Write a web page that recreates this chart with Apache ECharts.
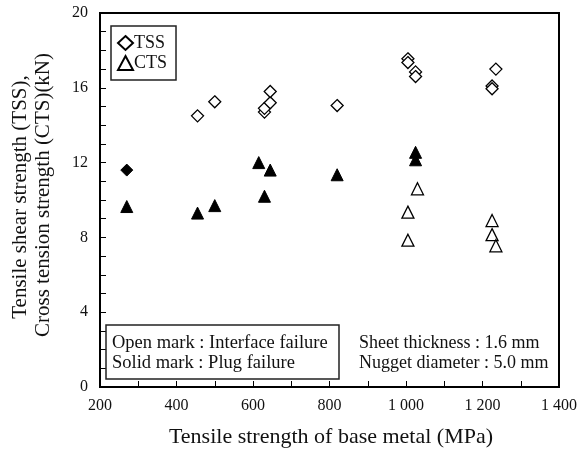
<!DOCTYPE html>
<html>
<head>
<meta charset="utf-8">
<script src="https://cdn.jsdelivr.net/npm/echarts@6/dist/echarts.min.js"></script>
<style>html,body{margin:0;padding:0;background:#fff}#c{width:580px;height:450px}</style>
</head>
<body>
<div id="c"></div>
<script>
// Data (x: MPa, y: kN)
const tssOpen = [[455,14.5],[500,15.25],[630,14.7],[630,14.9],[645,15.2],[645,15.8],[820,15.05],[1005,17.55],[1005,17.35],[1025,16.85],[1025,16.6],[1235,17.0],[1225,16.1],[1225,15.95]];
const tssSolid = [[270,11.6]];
const ctsSolid = [[270,9.65],[455,9.3],[500,9.7],[630,10.2],[615,12.0],[645,11.6],[820,11.35],[1025,12.55],[1025,12.15]];
const ctsOpen = [[1030,10.6],[1005,9.35],[1005,7.85],[1225,8.9],[1225,8.15],[1235,7.55]];
const xTicks = [200,400,600,800,1000,1200,1400];
const yTicks = [0,4,8,12,16,20];
const legendNames = ['TSS','CTS'];
const noteLeft = ['Open mark : Interface failure','Solid mark : Plug failure'];
const noteRight = ['Sheet thickness : 1.6 mm','Nugget diameter : 5.0 mm'];
const yTitle = ['Tensile shear strength (TSS),','Cross tension strength (CTS)(kN)'];
const xTitle = 'Tensile strength of base metal (MPa)';

const FONT = '"Liberation Serif", "DejaVu Serif", serif';
const chart = echarts.init(document.getElementById('c'), null, {renderer:'canvas'});
const axisCommon = {
  axisLine:{show:true, lineStyle:{color:'#000', width:2}},
  axisTick:{show:true, inside:true, length:6, lineStyle:{color:'#000', width:1}},
  minorTick:{show:true, length:6, lineStyle:{color:'#000', width:1}},
  splitLine:{show:false},
  axisLabel:{color:'#111', fontFamily:FONT, fontSize:16}
};
chart.setOption({
  animation:false,
  backgroundColor:'#fff',
  grid:{left:100, right:20, top:13, bottom:63, show:true, borderColor:'#000', borderWidth:2, backgroundColor:'transparent'},
  xAxis:Object.assign({}, axisCommon, {
    type:'value', min:xTicks[0], max:xTicks[xTicks.length-1], interval:200,
    minorTick:Object.assign({}, axisCommon.minorTick, {splitNumber:2}),
    axisLabel:Object.assign({}, axisCommon.axisLabel, {margin:11, showMinLabel:true, showMaxLabel:true,
      formatter:function(v){ return v>=1000 ? Math.floor(v/1000)+' '+String(v%1000).padStart(3,'0') : String(v); }})
  }),
  yAxis:Object.assign({}, axisCommon, {
    type:'value', min:yTicks[0], max:yTicks[yTicks.length-1], interval:4,
    minorTick:Object.assign({}, axisCommon.minorTick, {splitNumber:4}),
    axisLabel:Object.assign({}, axisCommon.axisLabel, {margin:12})
  }),
  legend:{
    data:legendNames, orient:'vertical', left:111, top:26,
    padding:[8,9,8,6], itemGap:2, itemWidth:15, itemHeight:14,
    borderColor:'#222', borderWidth:1.5, backgroundColor:'#fff',
    textStyle:{fontFamily:FONT, fontSize:18, color:'#111', padding:[0,0,0,-4]},
    selectedMode:false
  },
  series:[
    {name:'TSS', type:'scatter', data:tssOpen, symbol:'diamond', symbolSize:12,
      itemStyle:{color:'#fff', borderColor:'#000', borderWidth:1.3, opacity:1}},
    {name:'TSS plug', type:'scatter', data:tssSolid, symbol:'diamond', symbolSize:12,
      itemStyle:{color:'#000', borderColor:'#000', borderWidth:1, opacity:1}},
    {name:'CTS plug', type:'scatter', data:ctsSolid, symbol:'triangle', symbolSize:[12,12],
      itemStyle:{color:'#000', borderColor:'#000', borderWidth:1, opacity:1}},
    {name:'CTS', type:'scatter', data:ctsOpen, symbol:'triangle', symbolSize:[12,12],
      itemStyle:{color:'#fff', borderColor:'#000', borderWidth:1.3, opacity:1}}
  ],
  graphic:[
    {type:'rect', shape:{x:106, y:325, width:233, height:54}, style:{fill:'#fff', stroke:'#222', lineWidth:1.5}, z:10},
    {type:'text', x:112, y:343, style:{text:noteLeft[0], font:'18.5px '+FONT, fill:'#111', textVerticalAlign:'middle'}, z:11},
    {type:'text', x:112, y:363, style:{text:noteLeft[1], font:'18.5px '+FONT, fill:'#111', textVerticalAlign:'middle'}, z:11},
    {type:'text', x:359, y:343, style:{text:noteRight[0], font:'18px '+FONT, fill:'#111', textVerticalAlign:'middle'}, z:11},
    {type:'text', x:359, y:363, style:{text:noteRight[1], font:'18px '+FONT, fill:'#111', textVerticalAlign:'middle'}, z:11},
    {type:'text', x:20, y:197, rotation:Math.PI/2, style:{text:yTitle[0], font:'21px '+FONT, fill:'#111', textAlign:'center', textVerticalAlign:'middle'}},
    {type:'text', x:43, y:195, rotation:Math.PI/2, style:{text:yTitle[1], font:'21px '+FONT, fill:'#111', textAlign:'center', textVerticalAlign:'middle'}},
    {type:'text', x:331, y:437, style:{text:xTitle, font:'22px '+FONT, fill:'#111', textAlign:'center', textVerticalAlign:'middle'}}
  ]
});
</script>
</body>
</html>
